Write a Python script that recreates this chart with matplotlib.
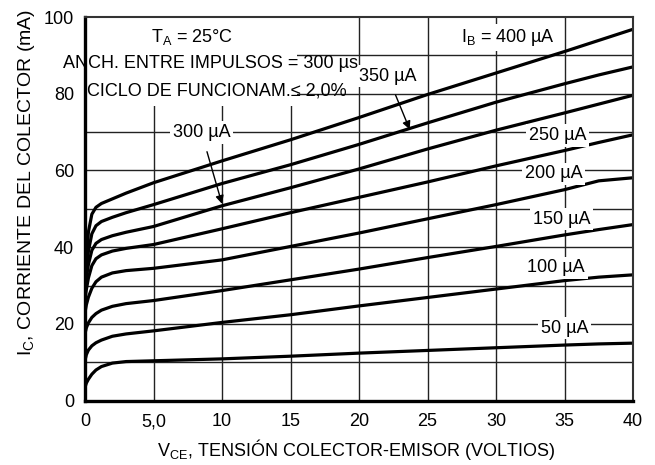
import matplotlib
matplotlib.use("Agg")
import matplotlib.pyplot as plt
from matplotlib.patches import Rectangle

FAM = "Liberation Sans"
plt.rcParams['font.family'] = [FAM, 'DejaVu Sans']
plt.rcParams['mathtext.fontset'] = 'custom'
plt.rcParams['mathtext.rm'] = FAM
plt.rcParams['mathtext.it'] = FAM

# ---- data (V_CE in volts, I_C in mA) ----
vce = [0, 0.1, 0.25, 0.5, 0.8, 1.2, 2, 3, 5, 10, 15, 20, 25, 30, 35, 37.5, 40]
ic_400 = [30, 37, 44, 48.6, 50.4, 51.4, 52.6, 54.1, 56.8, 62.5, 68, 73.8, 79.8, 85.4, 91, 93.9, 96.8]
ic_350 = [29, 34, 39, 43.5, 45.6, 46.7, 47.8, 49.0, 51.1, 56.6, 61.5, 66.8, 72.4, 77.8, 82.6, 84.9, 87]
ic_300 = [28, 32, 35.5, 39.2, 41.0, 42.0, 43.0, 43.9, 45.4, 50.8, 55.5, 60.4, 65.6, 70.5, 75, 77.3, 79.6]
ic_250 = [26.5, 29, 32, 35.2, 37.0, 38.0, 39.0, 39.7, 40.7, 44.8, 49.0, 53.0, 57.0, 61.2, 65.2, 67.3, 69.3]
ic_200 = [23, 25, 27, 29.3, 31, 32.2, 33.3, 33.9, 34.5, 36.7, 40.2, 43.7, 47.4, 51.1, 55, 57.3, 58.1]
ic_150 = [17.5, 19, 20.3, 21.7, 22.7, 23.6, 24.6, 25.3, 26.1, 28.7, 31.5, 34.3, 37.3, 40.2, 43.2, 44.6, 45.9]
ic_100 = [10.5, 12, 13.2, 14.3, 15.1, 15.8, 16.8, 17.4, 18.2, 20.4, 22.4, 24.7, 26.9, 29.1, 31.3, 32.2, 32.8]
ic_50 = [3.5, 4.6, 5.6, 6.9, 8.0, 8.9, 9.8, 10.2, 10.4, 10.9, 11.6, 12.4, 13.1, 13.8, 14.5, 14.8, 15]
curves = [ic_400, ic_350, ic_300, ic_250, ic_200, ic_150, ic_100, ic_50]

x_ticks = [0, 5, 10, 15, 20, 25, 30, 35, 40]
x_tick_labels = ["0", "5,0", "10", "15", "20", "25", "30", "35", "40"]
y_ticks = [0, 10, 20, 30, 40, 50, 60, 70, 80, 90, 100]
y_tick_labels = ["0", "", "20", "", "40", "", "60", "", "80", "", "100"]

fig = plt.figure(figsize=(6.55, 4.65), dpi=100)
ax = fig.add_axes([85/655, 64.3/465, 548/655, 383.7/465])
ax.set_xlim(0, 40)
ax.set_ylim(0, 100)

for v in x_ticks[1:-1]:
    ax.axvline(v, color='#222222', lw=1.0, zorder=1)
for i in y_ticks[1:-1]:
    ax.axhline(i, color='#222222', lw=1.0, zorder=1)

# white area behind the condition text
ax.add_patch(Rectangle((0, 76.7), 15.5, 23.3, facecolor='white', edgecolor='none', zorder=2))

for c in curves:
    ax.plot(vce, c, color='black', lw=2.3, zorder=4, solid_capstyle='butt',
            solid_joinstyle='round')

ax.set_xticks(x_ticks)
ax.set_xticklabels(x_tick_labels)
ax.set_yticks(y_ticks)
ax.set_yticklabels(y_tick_labels)
ax.tick_params(length=0, labelsize=13, pad=8)
ax.tick_params(axis='x', pad=9)

for s in ['left', 'bottom']:
    ax.spines[s].set_linewidth(2.4)
    ax.spines[s].set_color('black')
for s in ['top', 'right']:
    ax.spines[s].set_linewidth(1.5)
    ax.spines[s].set_color('#333333')
for s in ax.spines.values():
    s.set_zorder(6)

ax.set_xlabel(r"V$_{\mathrm{CE}}$, TENSIÓN COLECTOR-EMISOR (VOLTIOS)", fontsize=13)
ax.xaxis.set_label_coords(0.495, -0.095)
ax.set_ylabel(r"I$_{\mathrm{C}}$, CORRIENTE DEL COLECTOR (mA)", fontsize=14)
ax.yaxis.set_label_coords(-0.106, 0.57)
ax.yaxis.label.set_va('center')

fs = 13
box = dict(facecolor='white', edgecolor='none', pad=2)
ax.text(7.8, 94.7, r"T$_{\mathrm{A}}$ = 25°C", fontsize=fs, ha='center', va='center', zorder=5)
ax.text(-1.6, 88.0, "ANCH. ENTRE IMPULSOS = 300 µs", fontsize=fs, ha='left', va='center',
        zorder=7, clip_on=False)
ax.text(0.15, 80.7, "CICLO DE FUNCIONAM.≤ 2,0%", fontsize=fs, ha='left', va='center', zorder=5)
ax.text(30.9, 94.7, r"I$_{\mathrm{B}}$ = 400 µA", fontsize=fs, ha='center', va='center', zorder=5, bbox=box)

ax.annotate("350 µA", xy=(23.7, 70.7), xytext=(22.1, 84.6), fontsize=fs, ha='center', va='center',
            zorder=5, bbox=box,
            arrowprops=dict(arrowstyle='-|>', color='black', lw=1.0, mutation_scale=12,
                            shrinkA=6, shrinkB=0))
ax.annotate("300 µA", xy=(10.0, 51.3), xytext=(8.5, 69.9), fontsize=fs, ha='center', va='center',
            zorder=5, bbox=box,
            arrowprops=dict(arrowstyle='-|>', color='black', lw=1.0, mutation_scale=12,
                            shrinkA=6, shrinkB=0))

ax.text(34.5, 69.1, "250 µA", fontsize=fs, ha='center', va='center', zorder=5, bbox=box)
ax.text(34.2, 59.1, "200 µA", fontsize=fs, ha='center', va='center', zorder=5, bbox=box)
ax.text(34.8, 47.3, "150 µA", fontsize=fs, ha='center', va='center', zorder=5, bbox=box)
ax.text(34.4, 34.6, "100 µA", fontsize=fs, ha='center', va='center', zorder=5, bbox=box)
ax.text(35.0, 18.9, "50 µA", fontsize=fs, ha='center', va='center', zorder=5, bbox=box)

fig.savefig("out.png", dpi=100)
